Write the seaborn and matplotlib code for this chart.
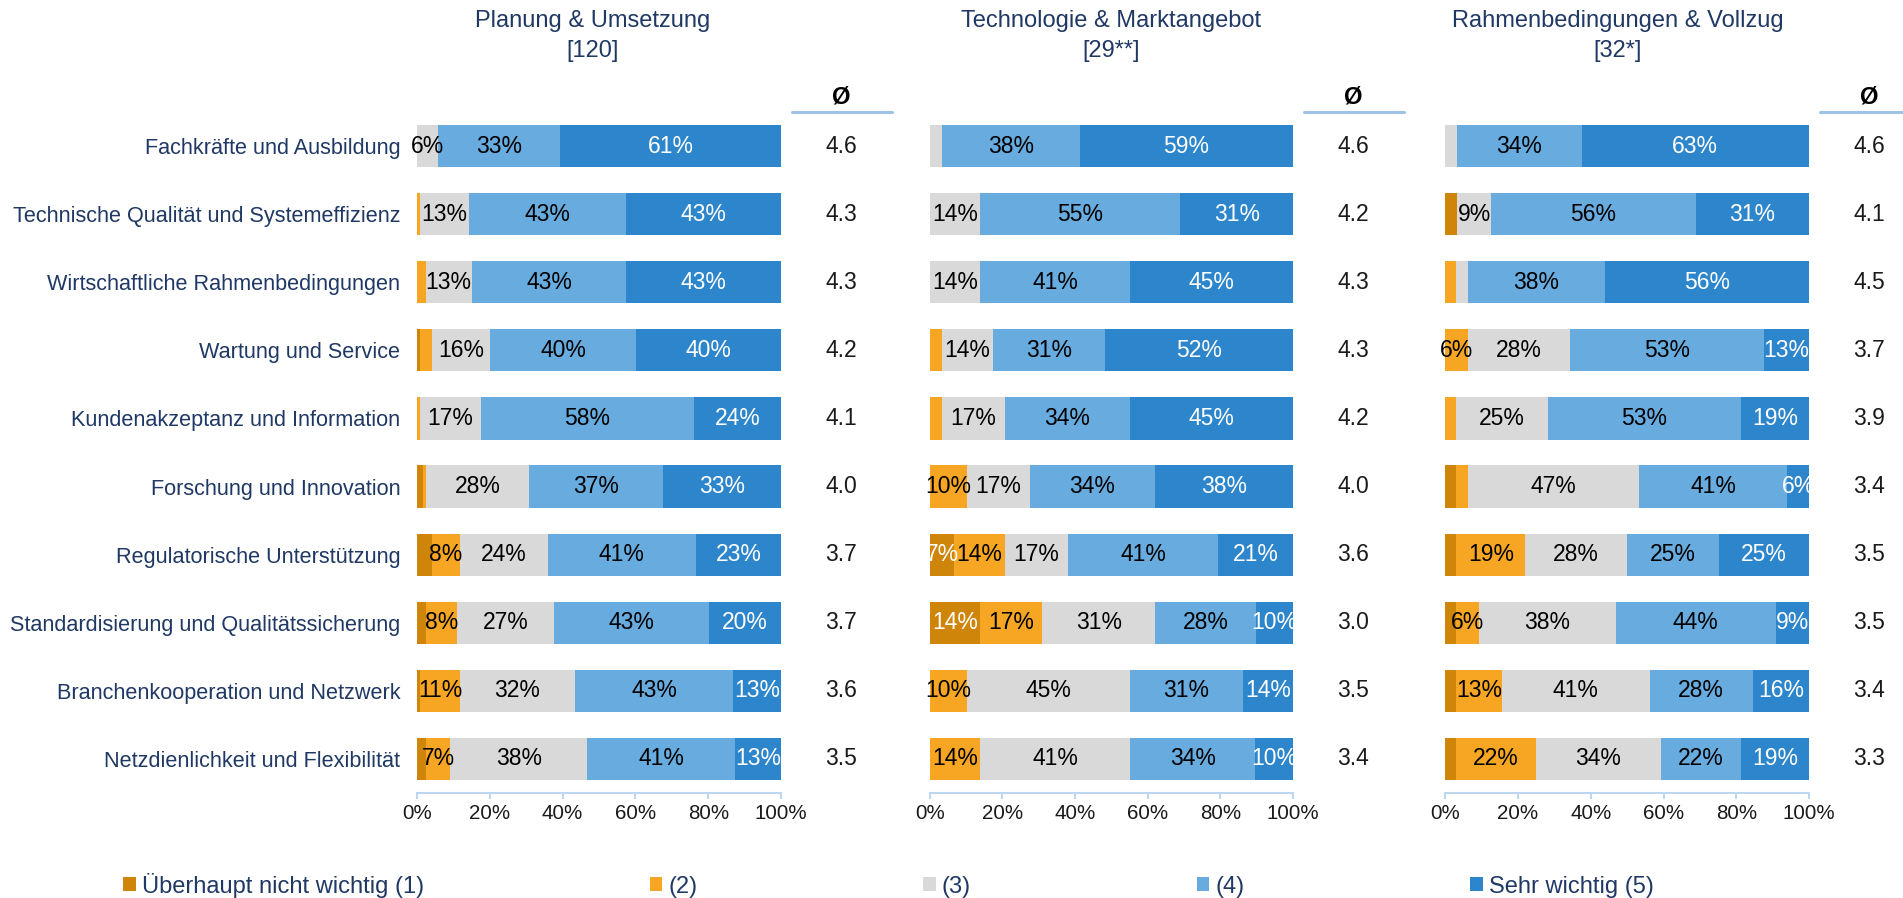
import numpy as np
import pandas as pd
import matplotlib
matplotlib.use("Agg")
import matplotlib.pyplot as plt
import matplotlib.transforms as mtransforms
from matplotlib.lines import Line2D
from matplotlib.patches import Patch
from matplotlib.ticker import FuncFormatter
import seaborn as sns

# ---------------------------------------------------------------- data
categories = [
    "Fachkräfte und Ausbildung",
    "Technische Qualität und Systemeffizienz",
    "Wirtschaftliche Rahmenbedingungen",
    "Wartung und Service",
    "Kundenakzeptanz und Information",
    "Forschung und Innovation",
    "Regulatorische Unterstützung",
    "Standardisierung und Qualitätssicherung",
    "Branchenkooperation und Netzwerk",
    "Netzdienlichkeit und Flexibilität",
]

level_labels = ["Überhaupt nicht wichtig (1)", "(2)", "(3)", "(4)", "Sehr wichtig (5)"]
level_colors = ["#CF840A", "#F6A623", "#D9D9D9", "#68ABDF", "#2D86CB"]
label_colors = ["white", "black", "black", "black", "white"]

panel_titles = ["Planung & Umsetzung", "Technologie & Marktangebot", "Rahmenbedingungen & Vollzug"]
panel_sizes = ["[120]", "[29**]", "[32*]"]

# Planung & Umsetzung (shares in %)
p1_l1 = [0.0, 0.0, 0.0, 0.8, 0.0, 1.7, 4.2, 2.6, 0.8, 2.6]
p1_l2 = [0.0, 0.8, 2.4, 3.3, 0.8, 0.8, 7.6, 8.4, 11.0, 6.6]
p1_l3 = [5.9, 13.4, 12.6, 15.9, 16.8, 28.4, 24.1, 26.6, 31.6, 37.5]
p1_l4 = [33.4, 43.2, 42.5, 40.2, 58.4, 36.6, 40.8, 42.6, 43.4, 40.8]
p1_l5 = [60.7, 42.6, 42.5, 39.8, 24.0, 32.5, 23.3, 19.8, 13.2, 12.5]
p1_mean = [4.6, 4.3, 4.3, 4.2, 4.1, 4.0, 3.7, 3.7, 3.6, 3.5]

# Technologie & Marktangebot (shares in %)
p2_l1 = [0.0, 0.0, 0.0, 0.0, 0.0, 0.0, 6.8, 13.8, 0.0, 0.0]
p2_l2 = [0.0, 0.0, 0.0, 3.4, 3.4, 10.3, 13.9, 17.2, 10.3, 13.8]
p2_l3 = [3.4, 13.8, 13.8, 13.9, 17.3, 17.3, 17.3, 31.1, 44.9, 41.4]
p2_l4 = [37.9, 55.2, 41.4, 31.0, 34.4, 34.4, 41.4, 27.7, 31.0, 34.4]
p2_l5 = [58.7, 31.0, 44.8, 51.7, 44.9, 38.0, 20.6, 10.2, 13.8, 10.4]
p2_mean = [4.6, 4.2, 4.3, 4.3, 4.2, 4.0, 3.6, 3.0, 3.5, 3.4]

# Rahmenbedingungen & Vollzug (shares in %)
p3_l1 = [0.0, 3.2, 0.0, 0.0, 0.0, 3.0, 3.0, 3.0, 3.0, 3.0]
p3_l2 = [0.0, 0.0, 3.0, 6.2, 3.0, 3.2, 19.0, 6.3, 12.6, 21.9]
p3_l3 = [3.1, 9.4, 3.3, 28.1, 25.2, 47.1, 28.0, 37.6, 40.6, 34.4]
p3_l4 = [34.4, 56.3, 37.6, 53.2, 53.1, 40.7, 25.2, 43.9, 28.3, 21.9]
p3_l5 = [62.5, 31.1, 56.1, 12.5, 18.7, 6.0, 24.8, 9.2, 15.5, 18.8]
p3_mean = [4.6, 4.1, 4.5, 3.7, 3.9, 3.4, 3.5, 3.5, 3.4, 3.3]

x_ticks = [0, 20, 40, 60, 80, 100]

panels = [
    ([p1_l1, p1_l2, p1_l3, p1_l4, p1_l5], p1_mean),
    ([p2_l1, p2_l2, p2_l3, p2_l4, p2_l5], p2_mean),
    ([p3_l1, p3_l2, p3_l3, p3_l4, p3_l5], p3_mean),
]

# ---------------------------------------------------------------- style
sns.set_style("white")
plt.rcParams["font.family"] = ["Liberation Sans", "DejaVu Sans"]

NAVY = "#1F3864"
AXIS_BLUE = "#BDD7EE"
LINE_BLUE = "#9DC3E6"
TEXT = "#1A1A1A"

W, H = 1903, 898
fig = plt.figure(figsize=(W / 100, H / 100), dpi=100)

ax_left_px = [417, 929.7, 1445.3]
ax_width_px = [364, 363.3, 363.7]
ax_top_px, ax_bottom_px = 112, 793
title_center_px = [593, 1111, 1618]

for p, (levels, means) in enumerate(panels):
    ax = fig.add_axes([
        ax_left_px[p] / W,
        1 - ax_bottom_px / H,
        ax_width_px[p] / W,
        (ax_bottom_px - ax_top_px) / H,
    ])

    values = np.array(levels, dtype=float)
    cum = np.cumsum(values, axis=0)
    df = pd.DataFrame({"Kategorie": categories})

    # stacked bars: widest cumulative first, narrower ones on top
    for k in range(4, -1, -1):
        df["Anteil"] = cum[k]
        sns.barplot(data=df, x="Anteil", y="Kategorie", color=level_colors[k],
                    width=0.62, saturation=1, errorbar=None, orient="h",
                    linewidth=0, ax=ax)

    # segment labels
    for k in range(5):
        for i, v in enumerate(values[k]):
            if v >= 5:
                ax.text(cum[k][i] - v / 2, i, f"{int(np.floor(v + 0.5))}%",
                        ha="center", va="center", fontsize=16.5,
                        color=label_colors[k])

    ax.set_xlim(0, 100)
    ax.set_xticks(x_ticks)
    ax.xaxis.set_major_formatter(FuncFormatter(lambda v, pos: f"{v:.0f}%"))
    ax.set_xlabel("")
    ax.set_ylabel("")

    for side in ("left", "top", "right"):
        ax.spines[side].set_visible(False)
    ax.spines["bottom"].set_color(AXIS_BLUE)
    ax.spines["bottom"].set_linewidth(1.5)
    ax.tick_params(axis="x", direction="out", length=4, width=1.5,
                   color=AXIS_BLUE, labelcolor=TEXT, labelsize=14.8, pad=4,
                   bottom=True)
    ax.tick_params(axis="y", length=0, pad=12, labelsize=15.6,
                   labelcolor=NAVY, labelleft=(p == 0))

    # mean column
    trans = mtransforms.blended_transform_factory(ax.transAxes, ax.transData)
    for i, m in enumerate(means):
        ax.text(1.166, i, f"{m:.1f}", transform=trans, ha="center",
                va="center", fontsize=16.5, color=TEXT, clip_on=False)
    ax.text(1.166, 1.022, "Ø", transform=ax.transAxes, ha="center",
            va="center", fontsize=17, fontweight="bold", color="black")
    ax.add_line(Line2D([1.03, 1.305], [1.0, 1.0], transform=ax.transAxes,
                       color=LINE_BLUE, lw=2.2, clip_on=False))

    # panel heading
    fig.text(title_center_px[p] / W, 1 - 27 / H, panel_titles[p],
             ha="center", va="baseline", fontsize=17, color=NAVY)
    fig.text(title_center_px[p] / W, 1 - 56.5 / H, panel_sizes[p],
             ha="center", va="baseline", fontsize=17, color=NAVY)

handles = [Patch(facecolor=c, edgecolor="none", label=l)
           for c, l in zip(level_colors, level_labels)]
fig.legend(handles=handles, loc="center left",
           bbox_to_anchor=(123 / W, 1 - 885 / H), ncol=5, frameon=False,
           fontsize=17, handlelength=0.55, handleheight=0.55,
           handletextpad=0.25, columnspacing=9.55, borderpad=0,
           borderaxespad=0, labelcolor=NAVY)

fig.savefig("out.png", dpi=100)
